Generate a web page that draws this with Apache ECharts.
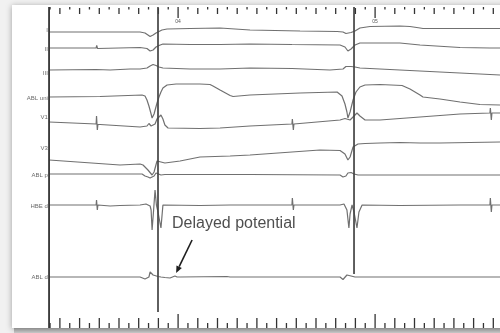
<!DOCTYPE html>
<html>
<head>
<meta charset="utf-8">
<script src="https://cdn.jsdelivr.net/npm/echarts@6/dist/echarts.min.js"></script>
<style>
  html, body { margin: 0; padding: 0; background: #f1f1f1; }
  #chart { width: 500px; height: 333px; }
</style>
</head>
<body>
<div id="chart"></div>
<script>
// channel names, their baseline row and label row (display units, top = 0)
const channels = ['I', 'II', 'III', 'ABL uni', 'V1', 'V3', 'ABL p', 'HBE d', 'ABL d']
const baselines = [31, 47, 69, 96, 124, 161, 175, 205, 277]
const labelRows = [30, 49, 73, 98, 117, 148, 175, 206, 277]

// signals: [time ms, amplitude] (amplitude positive = up)
const leadI = [[3345,-1],[3604,-1],[3807,-1],[3832,-2],[3847,-4],[3858,-5.5],[3873,-4],[3888,-2],[3903,-0.5],[3918,1],[3944,2],[4061,2.5],[4213,3],[4365,1],[4619,0],[4807,-0.5],[4837,-1],[4852,-2.5],[4862,-3],[4878,-1.5],[4898,0],[4923,3],[4974,4.5],[5126,5],[5177,4.5],[5228,3],[5243,2.5],[5634,2.5]]
const leadII = [[3345,-1],[3584,-1],[3587,1.5],[3591,-1.5],[3594,-1],[3807,-0.5],[3842,-1.5],[3858,-4],[3873,-3],[3888,0],[3903,1.5],[3923,3],[4061,2.5],[4213,2.5],[4365,3],[4578,2.5],[4581,4.5],[4585,1],[4588,2.5],[4822,2],[4847,0],[4862,-4],[4878,-2],[4898,2],[4923,4],[5126,4],[5228,2],[5431,-0.5],[5583,-1],[5586,1],[5590,-3],[5593,-1],[5634,-1]]
const leadIII = [[3345,-1],[3584,-0.5],[3587,1.5],[3591,-2],[3594,-0.5],[3655,-1],[3756,0],[3807,0],[3842,1],[3858,3],[3873,4.5],[3888,3.5],[3903,2],[3923,1],[4061,0],[4213,0],[4365,1],[4578,0.5],[4581,2.5],[4585,-1.5],[4588,0.5],[4771,-1],[4837,0],[4852,2.5],[4862,3],[4878,2.5],[4898,2],[4923,1],[5126,-1],[5329,-3],[5583,-5.5],[5586,-3.5],[5590,-7.5],[5593,-5.5],[5634,-6]]
const ablUni = [[3345,-1],[3604,-0.5],[3817,1],[3832,0],[3842,-4],[3852,-10],[3863,-18],[3868,-22],[3878,-18],[3893,-7],[3903,-1],[3913,4],[3923,8],[3944,11],[3990,12],[4111,12],[4162,11.5],[4177,10],[4213,6],[4264,0.5],[4279,-0.5],[4365,1],[4619,3],[4807,4],[4832,0],[4847,-8],[4857,-16],[4862,-22],[4873,-16],[4888,-4],[4903,4],[4923,9],[4949,11],[5025,11.5],[5137,10.5],[5177,7],[5228,1],[5243,-1],[5329,-3],[5431,-6],[5532,-8.5],[5634,-9]]
const v1 = [[3345,2],[3584,0],[3586,8],[3590,-6],[3593,-0.5],[3604,-0.5],[3807,-3],[3842,-2],[3852,0.5],[3863,-2],[3873,-3],[3883,0],[3893,5],[3913,9],[3923,5],[3933,-1],[3949,-4],[4111,-4.5],[4213,-4],[4365,-2],[4578,0],[4580,5],[4585,-6],[4588,0],[4822,4],[4847,5.5],[4857,7],[4873,4],[4888,7],[4908,11],[4923,8],[4949,4],[5025,4],[5228,7],[5431,10],[5583,11],[5585,16],[5590,4],[5593,11],[5634,11]]
const v3 = [[3345,1],[3705,-4],[3807,-3],[3822,-4],[3847,-9],[3868,-14],[3878,-11],[3893,0],[3898,1],[3913,-1],[3933,-2],[4010,0],[4111,4],[4264,5],[4365,6],[4720,11],[4822,10.5],[4847,7],[4862,1],[4873,4],[4888,14],[4898,16],[4913,17],[4949,17.5],[5025,18],[5126,18.5],[5228,18],[5329,18],[5634,19]]
const ablP = [[3345,1],[3817,1],[3832,-1],[3847,-2],[3858,-3],[3868,-3.5],[3878,-1],[3888,2],[3898,3],[3913,0],[3933,0.5],[4365,0.5],[4822,0],[4837,-2],[4852,-1],[4862,2],[4878,2.5],[4893,1],[4913,0],[5634,0]]
const hbeD = [[3345,0],[3584,0],[3586,5],[3590,-5],[3593,0],[3655,-1],[3705,-0.5],[3807,0],[3837,1],[3847,2],[3858,-1],[3863,-5],[3868,-25],[3875,-7],[3883,15],[3890,0],[3898,-7],[3913,-23],[3923,0],[3933,0],[4111,-0.5],[4264,0],[4578,0],[4580,7],[4585,-5],[4588,0],[4822,0],[4842,1],[4850,0],[4857,-5],[4867,-23],[4873,-9],[4883,0],[4893,-7],[4908,-23],[4918,-7],[4934,0],[5126,-0.5],[5431,0],[5583,0],[5585,7],[5590,-7],[5593,0],[5634,0]]
const ablD = [[3345,0],[3807,0],[3817,-0.5],[3832,-2],[3842,-3.5],[3852,0],[3858,5],[3863,6],[3873,2],[3883,0],[3898,0.5],[3913,0],[3933,-0.5],[3959,-1],[3984,1],[3995,0],[4010,0],[4248,0.5],[4264,0],[4365,0],[4822,0],[4837,-2.5],[4847,-4],[4857,2],[4862,3.5],[4878,1],[4898,0],[5634,0]]
const traces = [leadI, leadII, leadIII, ablUni, v1, v3, ablP, hbeD, ablD]

// stimulus / beat markers: time and how far down the line runs
const stimTimes = [3898, 4893]
const stimEnds = [312, 274]

// time scale
const recordStart = 3345
const labelTicks = [4000, 5000]
const labelTickText = ['04', '05']
const tickTimes = []
for (let t = 3350; t <= 5600; t += 50) tickTimes.push(t)

// annotation
const noteText = 'Delayed potential'
const noteAt = [3969, 224]
const arrowFrom = [4071, 240]
const arrowTo = [3990, 273]

const chart = echarts.init(document.getElementById('chart'))
const traceColor = '#707070'
const inkColor = '#333'
const series = []

traces.forEach((tr, i) => {
  series.push({
    name: channels[i],
    type: 'line',
    data: tr.map(p => [p[0], baselines[i] - p[1]]),
    symbol: 'none',
    lineStyle: { color: traceColor, width: 1.2 },
    silent: true
  })
})

// left edge of the recording
series.push({
  type: 'line',
  data: [[recordStart, 7], [recordStart, 328]],
  symbol: 'none',
  lineStyle: { color: inkColor, width: 1.8 },
  silent: true
})

// beat lines
stimTimes.forEach((t, i) => {
  series.push({
    type: 'line',
    data: [[t, 7], [t, stimEnds[i]]],
    symbol: 'none',
    lineStyle: { color: '#444', width: 1.7 },
    silent: true
  })
})

// arrow pointing at the delayed potential
series.push({
  type: 'custom',
  silent: true,
  data: [[arrowFrom[0], arrowFrom[1], arrowTo[0], arrowTo[1]]],
  renderItem: (params, api) => {
    const a = api.coord([api.value(0), api.value(1)])
    const b = api.coord([api.value(2), api.value(3)])
    const ang = Math.atan2(b[1] - a[1], b[0] - a[0])
    const len = 7, wid = 3
    const bx = b[0] - len * Math.cos(ang), by = b[1] - len * Math.sin(ang)
    const nx = -Math.sin(ang) * wid, ny = Math.cos(ang) * wid
    return {
      type: 'group',
      children: [
        { type: 'line', shape: { x1: a[0], y1: a[1], x2: bx, y2: by }, style: { stroke: '#1e1e1e', lineWidth: 1.6 } },
        { type: 'polygon', shape: { points: [[b[0], b[1]], [bx + nx, by + ny], [bx - nx, by - ny]] }, style: { fill: '#1e1e1e' } }
      ]
    }
  }
})

// time ticks, top and bottom
series.push({
  type: 'custom',
  silent: true,
  data: tickTimes.map(t => [t]),
  renderItem: (params, api) => {
    const t = api.value(0)
    const x = api.coord([t, 0])[0]
    const y = v => api.coord([t, v])[1]
    const li = labelTicks.indexOf(t)
    const major = t % 100 === 0
    const stroke = { stroke: inkColor, lineWidth: 1.3 }
    const seg = (a, b) => ({ type: 'line', shape: { x1: x, y1: y(a), x2: x, y2: y(b) }, style: stroke })
    const children = []
    if (li >= 0) {
      children.push(seg(7, 18))
      children.push({
        type: 'text',
        style: { text: labelTickText[li], x: x, y: y(22), align: 'center', verticalAlign: 'middle', fontSize: 5, fill: '#555', fontFamily: 'Liberation Sans' }
      })
      children.push(seg(314, 328))
    } else if (major) {
      children.push(seg(8, 14))
      children.push(seg(318, 328))
    } else {
      children.push(seg(7, 9.5))
      children.push(seg(323, 328))
    }
    return { type: 'group', children }
  }
})

// channel labels
series.push({
  type: 'scatter',
  silent: true,
  symbolSize: 0,
  data: channels.map((c, i) => [recordStart - 1, labelRows[i], c]),
  label: {
    show: true,
    position: 'left',
    distance: 1,
    formatter: p => p.value[2],
    fontSize: 6,
    color: '#444',
    fontFamily: 'Liberation Sans'
  }
})

// annotation text
series.push({
  type: 'scatter',
  silent: true,
  symbolSize: 0,
  data: [noteAt],
  label: {
    show: true,
    position: 'right',
    distance: 0,
    formatter: noteText,
    fontSize: 16,
    color: '#222',
    fontFamily: 'Liberation Sans'
  }
})

chart.setOption({
  animation: false,
  graphic: [
    {
      type: 'rect',
      z: -10,
      shape: { x: 12, y: 5, width: 500, height: 323 },
      style: { fill: '#fff', shadowBlur: 6, shadowColor: 'rgba(0,0,0,0.35)', shadowOffsetY: 1 }
    },
    {
      type: 'rect',
      z: -9,
      shape: { x: 14, y: 328, width: 490, height: 5 },
      style: {
        fill: new echarts.graphic.LinearGradient(0, 0, 0, 1, [
          { offset: 0, color: '#8c8c8c' },
          { offset: 1, color: '#c8c8c8' }
        ])
      }
    }
  ],
  grid: { left: 0, right: 0, top: 0, bottom: 0 },
  xAxis: { type: 'value', min: 3096, max: 5634, show: false },
  yAxis: { type: 'value', min: 0, max: 333, inverse: true, show: false },
  series: series
})
</script>
</body>
</html>
